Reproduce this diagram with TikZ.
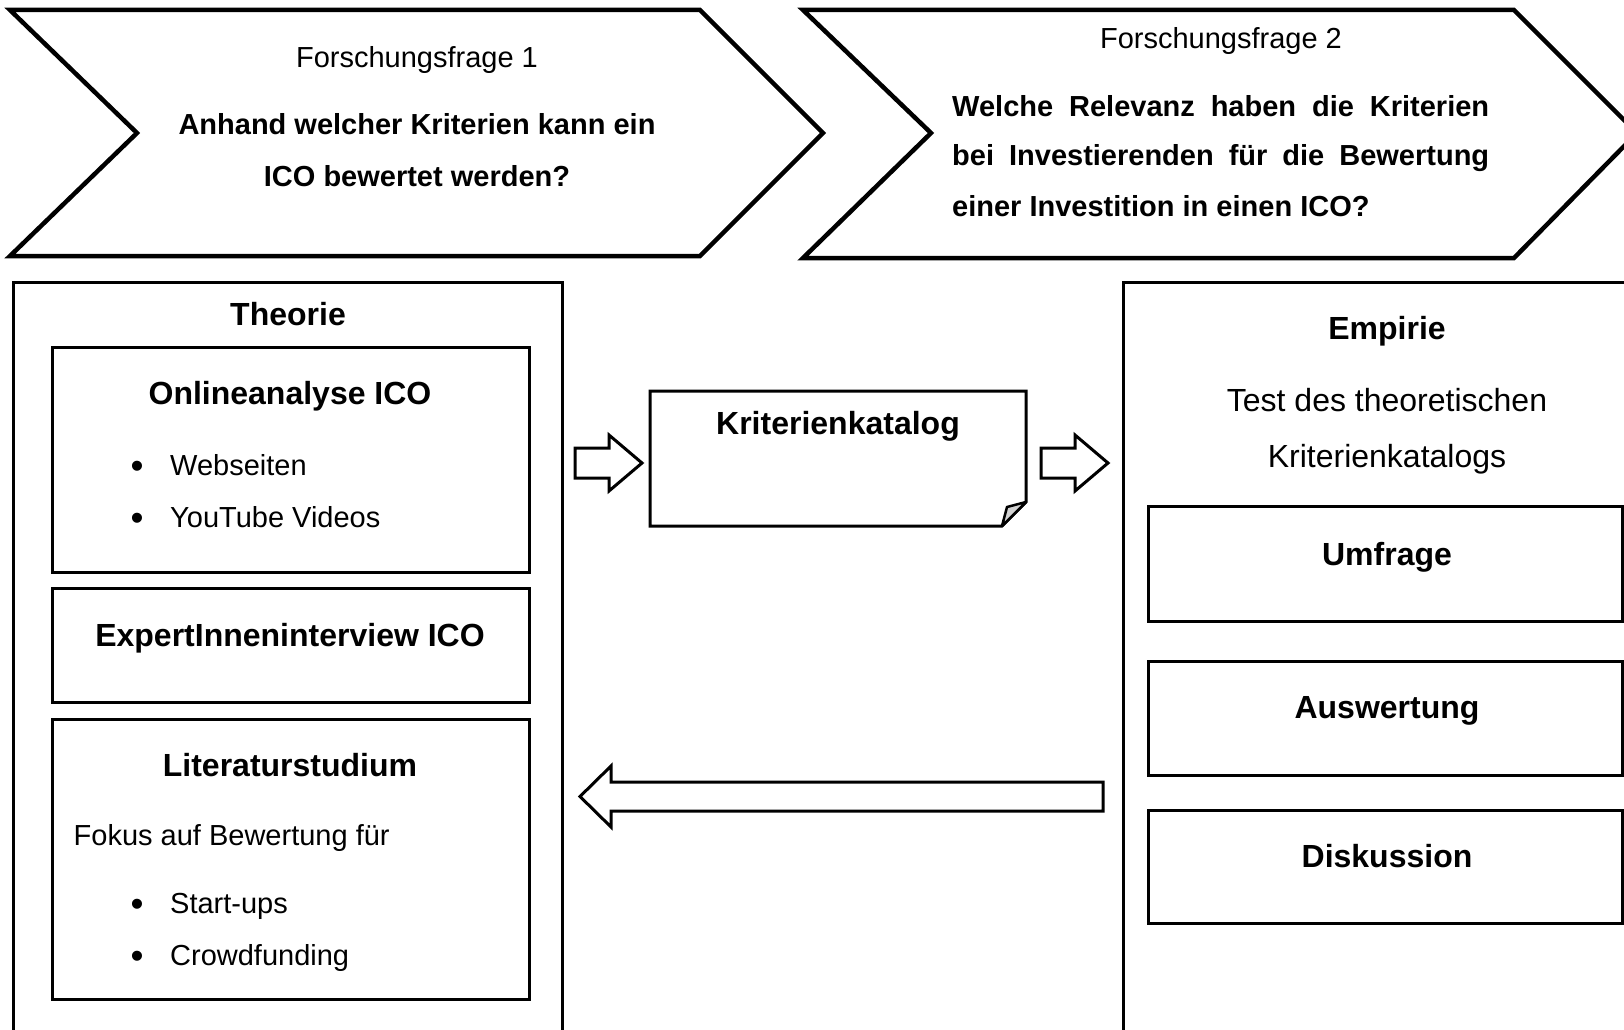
\documentclass[tikz,border=0pt]{standalone}
\usepackage{fontspec}
\setmainfont{Liberation Sans}
\begin{document}
\begin{tikzpicture}[x=1pt,y=-1pt,
  chev/.style={draw, line width=4.5pt, line join=miter, fill=white},
  box/.style={draw, line width=3pt, rectangle, inner sep=0pt, outer sep=0pt, anchor=north west},
  blockarrow/.style={draw, line width=3pt, line join=miter, fill=white},
  ttl/.style={font=\fontsize{32}{38}\selectfont\bfseries, anchor=base, inner sep=0pt},
  qtxt/.style={font=\fontsize{29}{35}\selectfont, anchor=base, inner sep=0pt},
  qbold/.style={font=\fontsize{29}{35}\selectfont\bfseries, inner sep=0pt},
  etxt/.style={font=\fontsize{32}{38}\selectfont, anchor=base, inner sep=0pt},
  itm/.style={font=\fontsize{29}{35}\selectfont, anchor=base west, inner sep=0pt},
  bul/.style={font=\fontsize{37}{40}\selectfont, anchor=base, inner sep=0pt}]
\useasboundingbox (0,0) rectangle (1624,1030);
\clip (0,0) rectangle (1624,1030);
\fill[white] (0,0) rectangle (1624,1030);

% chevrons
\draw[chev] (10,10) -- (700,10) -- (823,133) -- (700,256) -- (10,256) -- (137,133) -- cycle;
\draw[chev] (803,10) -- (1514,10) -- (1637,133) -- (1514,258) -- (803,258) -- (931,133) -- cycle;
\node[qtxt] (ff1) at (417,67.4) {Forschungsfrage 1};
\node[qbold, anchor=base] (q1a) at (417,134.4) {Anhand welcher Kriterien kann ein};
\node[qbold, anchor=base] (q1b) at (417,186.4) {ICO bewertet werden?};
\node[qtxt] (ff2) at (1221,48.4) {Forschungsfrage 2};
\node[qbold, anchor=base west] (q2a) at (952,116.4) {\makebox[537pt][s]{Welche Relevanz haben die Kriterien}};
\node[qbold, anchor=base west] (q2b) at (952,165.4) {\makebox[537pt][s]{bei Investierenden für die Bewertung}};
\node[qbold, anchor=base west] (q2c) at (952,216.4) {einer Investition in einen ICO?};

% Theorie
\node[box, minimum width=548.5pt, minimum height=760pt] (theorie) at (13.5,282) {};
\node[ttl] (theorieT) at (288,325.5) {Theorie};
\node[box, minimum width=477pt, minimum height=225pt] (online) at (52,347) {};
\node[ttl] (onlineT) at (290,404.5) {Onlineanalyse ICO};
\node[bul] (b1) at (137,478) {\textbullet};
\node[itm] (i1) at (170,475.4) {Webseiten};
\node[bul] (b2) at (137,530) {\textbullet};
\node[itm] (i2) at (170,527.4) {YouTube Videos};
\node[box, minimum width=477pt, minimum height=114pt] (expert) at (52,588) {};
\node[ttl] (expertT) at (290,646.5) {ExpertInneninterview ICO};
\node[box, minimum width=477pt, minimum height=280pt] (lit) at (52,719) {};
\node[ttl] (litT) at (290,776.5) {Literaturstudium};
\node[itm] (fokus) at (73.5,845.4) {Fokus auf Bewertung für};
\node[bul] (b3) at (137,916) {\textbullet};
\node[itm] (i3) at (170,913.4) {Start-ups};
\node[bul] (b4) at (137,968) {\textbullet};
\node[itm] (i4) at (170,965.4) {Crowdfunding};

% Kriterienkatalog (document shape)
\node[inner sep=0pt, outer sep=0pt, minimum width=376pt, minimum height=135pt, anchor=north west] (kat) at (650,391) {};
\draw[line width=3pt, line join=miter] (kat.north west) -- (kat.north east) -- ([yshift=24pt]kat.south east) -- ([xshift=-24pt]kat.south east) -- (kat.south west) -- cycle;
\draw[line width=2.5pt, fill=gray!35, line join=round] ([xshift=-24pt]kat.south east) -- ([xshift=-19pt,yshift=19pt]kat.south east) -- ([yshift=24pt]kat.south east) -- cycle;
\node[ttl] (katT) at (838,434.5) {Kriterienkatalog};

% Empirie
\node[box, minimum width=537pt, minimum height=760pt] (empirie) at (1123,282) {};
\node[ttl] (empT) at (1387,339.5) {Empirie};
\node[etxt] (e1) at (1387,411.5) {Test des theoretischen};
\node[etxt] (e2) at (1387,467.5) {Kriterienkatalogs};
\node[box, minimum width=474pt, minimum height=115pt] (umf) at (1148,506) {};
\node[ttl] (umfT) at (1387,565.5) {Umfrage};
\node[box, minimum width=474pt, minimum height=114pt] (ausw) at (1148,661) {};
\node[ttl] (auswT) at (1387,718.5) {Auswertung};
\node[box, minimum width=474pt, minimum height=113pt] (disk) at (1148,810) {};
\node[ttl] (diskT) at (1387,867.5) {Diskussion};

% block arrows
\draw[blockarrow] (575,448) -- (609,448) -- (609,435) -- (642,463) -- (609,491) -- (609,478) -- (575,478) -- cycle;
\draw[blockarrow] (1041,448) -- (1075,448) -- (1075,435) -- (1108,463) -- (1075,491) -- (1075,478) -- (1041,478) -- cycle;
\draw[blockarrow] (1103,782) -- (611,782) -- (611,766) -- (580,796.5) -- (611,827) -- (611,811) -- (1103,811) -- cycle;
\end{tikzpicture}
\end{document}
